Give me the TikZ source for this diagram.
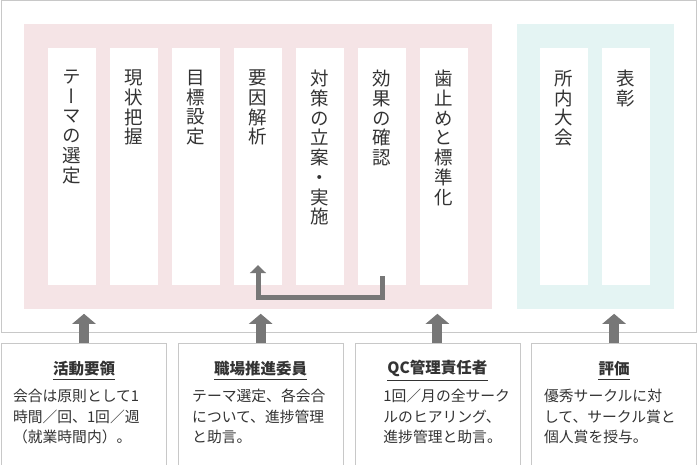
\documentclass[tikz,border=0pt]{standalone}
\usepackage{fontspec}
\setmainfont{Noto Sans CJK JP}
\newfontfamily\tatefont[RawFeature=+vert]{Noto Sans CJK JP}
\usetikzlibrary{positioning,arrows.meta,calc}
\definecolor{pinkbg}{HTML}{F5E4E6}
\definecolor{tealbg}{HTML}{E4F4F3}
\definecolor{framegray}{HTML}{C8C8C8}
\definecolor{arrowgray}{HTML}{777777}
\definecolor{textgray}{HTML}{333333}

\begin{document}
\begin{tikzpicture}[x=1pt,y=-1pt,node distance=62pt,on grid,
		col/.style={rectangle,fill=white,minimum width=48pt,minimum height=236.7pt,inner sep=0pt},
		tate/.style={anchor=north,inner sep=0pt,align=center,text=textgray,font=\tatefont\fontsize{18.5}{19.75}\selectfont},
		infobox/.style={rectangle,draw=framegray,fill=white,minimum width=165pt,minimum height=121.4pt,inner sep=0pt},
		infotitle/.style={inner sep=0pt,text=textgray,font=\bfseries\fontsize{15.5}{18}\selectfont},
		infobody/.style={anchor=north west,inner sep=0pt,align=left,text=textgray,font=\fontsize{14.8}{20.5}\selectfont},
		bigarrow/.style={draw=arrowgray,line width=10pt,-{Triangle[width=23pt,length=10pt]}},
		loopline/.style={draw=arrowgray,line width=5pt,-{Triangle[width=16pt,length=8pt]}}]
		\useasboundingbox (0,0) rectangle (698,465);
		\draw[framegray] (1,0.5) rectangle (696,332.5);
		
		% panels
		\fill[pinkbg] (24,24) rectangle (492,308.7);
		\fill[tealbg] (517,24) rectangle (673.7,308.7);
		
		% steps
		\node[col] (c1) at (72,166.35) {};
		\node[col] (c2) [right=of c1] {};
		\node[col] (c3) [right=of c2] {};
		\node[col] (c4) [right=of c3] {};
		\node[col] (c5) [right=of c4] {};
		\node[col] (c6) [right=of c5] {};
		\node[col] (c7) [right=of c6] {};
		\node[col] (t1) at (564,166.35) {};
		\node[col] (t2) [right=of t1] {};
		
		\node[tate] at ([yshift=-22pt]c1.north) {テ\\ー\\マ\\の\\選\\定};
		\node[tate] at ([yshift=-22pt]c2.north) {現\\状\\把\\握};
		\node[tate] at ([yshift=-22pt]c3.north) {目\\標\\設\\定};
		\node[tate] at ([yshift=-22pt]c4.north) {要\\因\\解\\析};
		\node[tate] at ([yshift=-22pt]c5.north) {対\\策\\の\\立\\案\\・\\実\\施};
		\node[tate] at ([yshift=-22pt]c6.north) {効\\果\\の\\確\\認};
		\node[tate] at ([yshift=-22pt]c7.north) {歯\\止\\め\\と\\標\\準\\化};
		\node[tate] at ([yshift=-22pt]t1.north) {所\\内\\大\\会};
		\node[tate] at ([yshift=-22pt]t2.north) {表\\彰};
		
		\draw[loopline] ([yshift=8.7pt]c6.south) -- ++(0,20.8) -| ([yshift=19.7pt]c4.south);
		
		% boxes
		\node[infobox] (b1) at (84,404) {};
		\node[infobox] (b2) [right=176.7pt of b1] {};
		\node[infobox] (b3) [right=176.7pt of b2] {};
		\node[infobox] (b4) [right=176.7pt of b3] {};
		
		\foreach \b in {b1,b2,b3,b4}
		\draw[bigarrow] (\b.north) -- ++(0,-29.3);
		
		\node[infotitle] (h1) at ($(b1.north)+(0,25.7)$) {活動要領};
		\node[infotitle] (h2) at ($(b2.north)+(0,25.7)$) {職場推進委員};
		\node[infotitle] (h3) at ($(b3.north)+(0,25.7)$) {QC管理責任者};
		\node[infotitle] (h4) at ($(b4.north)+(0,25.7)$) {評価};
		\foreach \h in {h1,h2,h3,h4}
		\draw[textgray,line width=0.8pt] ([yshift=-3pt]\h.south west) -- ([yshift=-3pt]\h.south east);
		
		\node[infobody] (p1) at ($(b1.north west)+(11.5,46)$) {会合は原則として1\\時間／回、1回／週\\（就業時間内）。};
		\node[infobody] (p2) at ($(b2.north west)+(14,46)$) {テーマ選定、各会合\\について、進捗管理\\と助言。};
		\node[infobody] (p3) at ($(b3.north west)+(28.5,46)$) {1回／月の全サーク\\ルのヒアリング、\\進捗管理と助言。};
		\node[infobody] (p4) at ($(b4.north west)+(12.5,46)$) {優秀サークルに対\\して、サークル賞と\\個人賞を授与。};
\end{tikzpicture}
\end{document}
